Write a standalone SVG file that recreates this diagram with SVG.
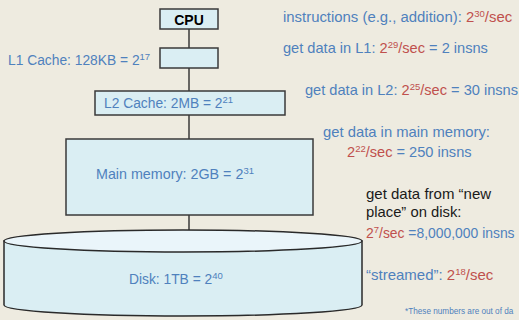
<svg xmlns="http://www.w3.org/2000/svg" width="519" height="320" viewBox="0 0 519 320">
<style>
text{font-family:"Liberation Sans",Arial,sans-serif;font-size:13.8px}
.rt{font-size:14.6px}
.b{fill:#4F81BD}
.r{fill:#C0504D}
.k{fill:#1a1a1a}
.s{font-size:9.5px}
.box{fill:#DAEEF3;stroke:#3a3a3a;stroke-width:1.5}
.ln{stroke:#3a3a3a;stroke-width:1.5;fill:none}
</style>
<rect width="519" height="320" fill="#EEEBE0"/>
<g id="connectors">
<line class="ln" x1="189" y1="29" x2="189" y2="48"/>
<line class="ln" x1="189" y1="68" x2="189" y2="91"/>
<line class="ln" x1="189" y1="115" x2="189" y2="139"/>
<line class="ln" x1="189" y1="215" x2="189" y2="230"/>
</g>
<g id="cpu">
<rect class="box" x="160" y="9" width="58" height="20"/>
<text x="189" y="25" text-anchor="middle" style="font-weight:bold;font-size:14px" fill="#000">CPU</text>
</g>
<g id="l1">
<rect class="box" x="160" y="48" width="58" height="20"/>
<text x="8" y="65" class="b">L1 Cache: 128KB = 2<tspan class="s" dy="-5">17</tspan></text>
</g>
<g id="l2">
<rect class="box" x="95" y="91" width="190" height="24"/>
<text x="104" y="108" class="b">L2 Cache: 2MB = 2<tspan class="s" dy="-5">21</tspan></text>
</g>
<g id="main">
<rect class="box" x="66" y="139" width="247" height="76"/>
<text x="96" y="179" class="b" style="font-size:14.3px">Main memory: 2GB = 2<tspan class="s" dy="-5">31</tspan></text>
</g>
<g id="disk">
<path d="M4,241 L4,305 A179,11 0 0 0 362,305 L362,241 Z" fill="#DAEEF3" stroke="#2a2a2a" stroke-width="1.5"/>
<ellipse cx="183" cy="241" rx="179" ry="11" fill="#EAF5FA" stroke="#2a2a2a" stroke-width="1.5"/>
<text x="129" y="284" class="b">Disk: 1TB = 2<tspan class="s" dy="-5">40</tspan></text>
</g>
<g id="notes">
<text x="283" y="22" class="b rt" style="font-size:14.9px">instructions (e.g., addition): <tspan class="r">2<tspan class="s" dy="-5">30</tspan><tspan dy="5">/sec</tspan></tspan></text>
<text x="283" y="53" class="b rt">get data in L1: <tspan class="r">2<tspan class="s" dy="-5">29</tspan><tspan dy="5">/sec</tspan></tspan> = 2 insns</text>
<text x="305" y="95" class="b rt">get data in L2: <tspan class="r">2<tspan class="s" dy="-5">25</tspan><tspan dy="5">/sec</tspan></tspan> = 30 insns</text>
<text x="323" y="137" class="b rt" style="font-size:14.8px">get data in main memory:</text>
<text x="347" y="157" class="b rt"><tspan class="r">2<tspan class="s" dy="-5">22</tspan><tspan dy="5">/sec</tspan></tspan> = 250 insns</text>
<text x="366" y="199" class="k" style="font-size:15px">get data from “new</text>
<text x="366" y="217" class="k" style="font-size:14.8px">place” on disk:</text>
<text x="366" y="238" class="b" style="font-size:13.9px"><tspan class="r">2<tspan class="s" dy="-5">7</tspan><tspan dy="5">/sec</tspan></tspan> =8,000,000 insns</text>
<text x="366" y="280" class="b" style="font-size:15px">“streamed”: <tspan class="r">2<tspan class="s" dy="-5">18</tspan><tspan dy="5">/sec</tspan></tspan></text>
<text x="405" y="314" class="b" style="font-size:8.2px">*These numbers are out of da</text>
</g>
</svg>
